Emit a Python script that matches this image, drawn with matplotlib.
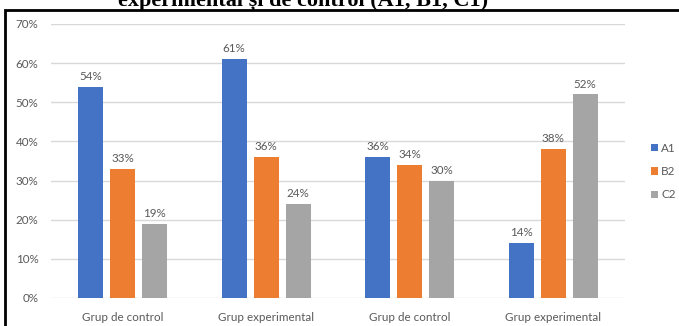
import matplotlib
matplotlib.use("Agg")
import matplotlib.pyplot as plt
import matplotlib.patches as mpatches
import numpy as np

# date
grupuri = ["Grup de control", "Grup experimental", "Grup de control", "Grup experimental"]
serii = ["A1", "B2", "C2"]
a1 = [0.54, 0.61, 0.36, 0.14]
b2 = [0.33, 0.36, 0.34, 0.38]
c2 = [0.19, 0.24, 0.30, 0.52]
culori = ["#4472C4", "#ED7D31", "#A5A5A5"]
titlu = "experimental și de control (A1, B1, C1)"

plt.rcParams["font.family"] = ["Lato", "DejaVu Sans"]

W, H = 679, 326
fig = plt.figure(figsize=(W / 100, H / 100), dpi=100)
ax = fig.add_axes([51 / W, (H - 298) / H, 574 / W, 274 / H])

x = np.arange(len(grupuri))
latime = 0.174
pas = 0.223
for i, (vals, nume) in enumerate(zip([a1, b2, c2], serii)):
    bars = ax.bar(x + (i - 1) * pas, vals, width=latime, color=culori[i],
                  label=nume, zorder=3)
    for b, v in zip(bars, vals):
        ax.annotate(f"{v * 100:.0f}%", (b.get_x() + b.get_width() / 2, v),
                    xytext=(0, 3.5), textcoords="offset points",
                    ha="center", va="bottom", fontsize=8.4, color="#595959")

ax.set_xlim(-0.5, len(grupuri) - 0.5)
ax.set_ylim(0, 0.7)
ax.set_yticks(np.arange(0, 0.71, 0.1))
ax.set_yticklabels([f"{t * 100:.0f}%" for t in np.arange(0, 0.71, 0.1)])
ax.set_xticks(x)
ax.set_xticklabels(grupuri)
ax.tick_params(axis="both", length=0, labelsize=8.4, labelcolor="#595959")
ax.tick_params(axis="y", pad=9)
ax.tick_params(axis="x", pad=10)
ax.grid(axis="y", color="#D9D9D9", linewidth=1, zorder=0)
for s in ax.spines.values():
    s.set_visible(False)

ax.legend(loc="upper left", bbox_to_anchor=(645 / W, 1 - 137 / H),
          bbox_transform=fig.transFigure, frameon=False, fontsize=8.4,
          handlelength=0.6, handleheight=0.6, handletextpad=0.3,
          labelspacing=1.05, labelcolor="#595959", borderpad=0)

# chenarul imaginii
fig.patches.append(mpatches.Rectangle((5 / W, -0.1), 1.1, 1 - 10 / H + 0.1,
                                      transform=fig.transFigure, fill=False,
                                      edgecolor="black", linewidth=2))

# titlul taiat sus (asa apare si in original)
fig.text(303 / W, 1 - 6 / H, titlu, ha="center", va="baseline",
         fontsize=16, fontweight="bold", family="Liberation Serif")

fig.savefig("out.png", dpi=100)
